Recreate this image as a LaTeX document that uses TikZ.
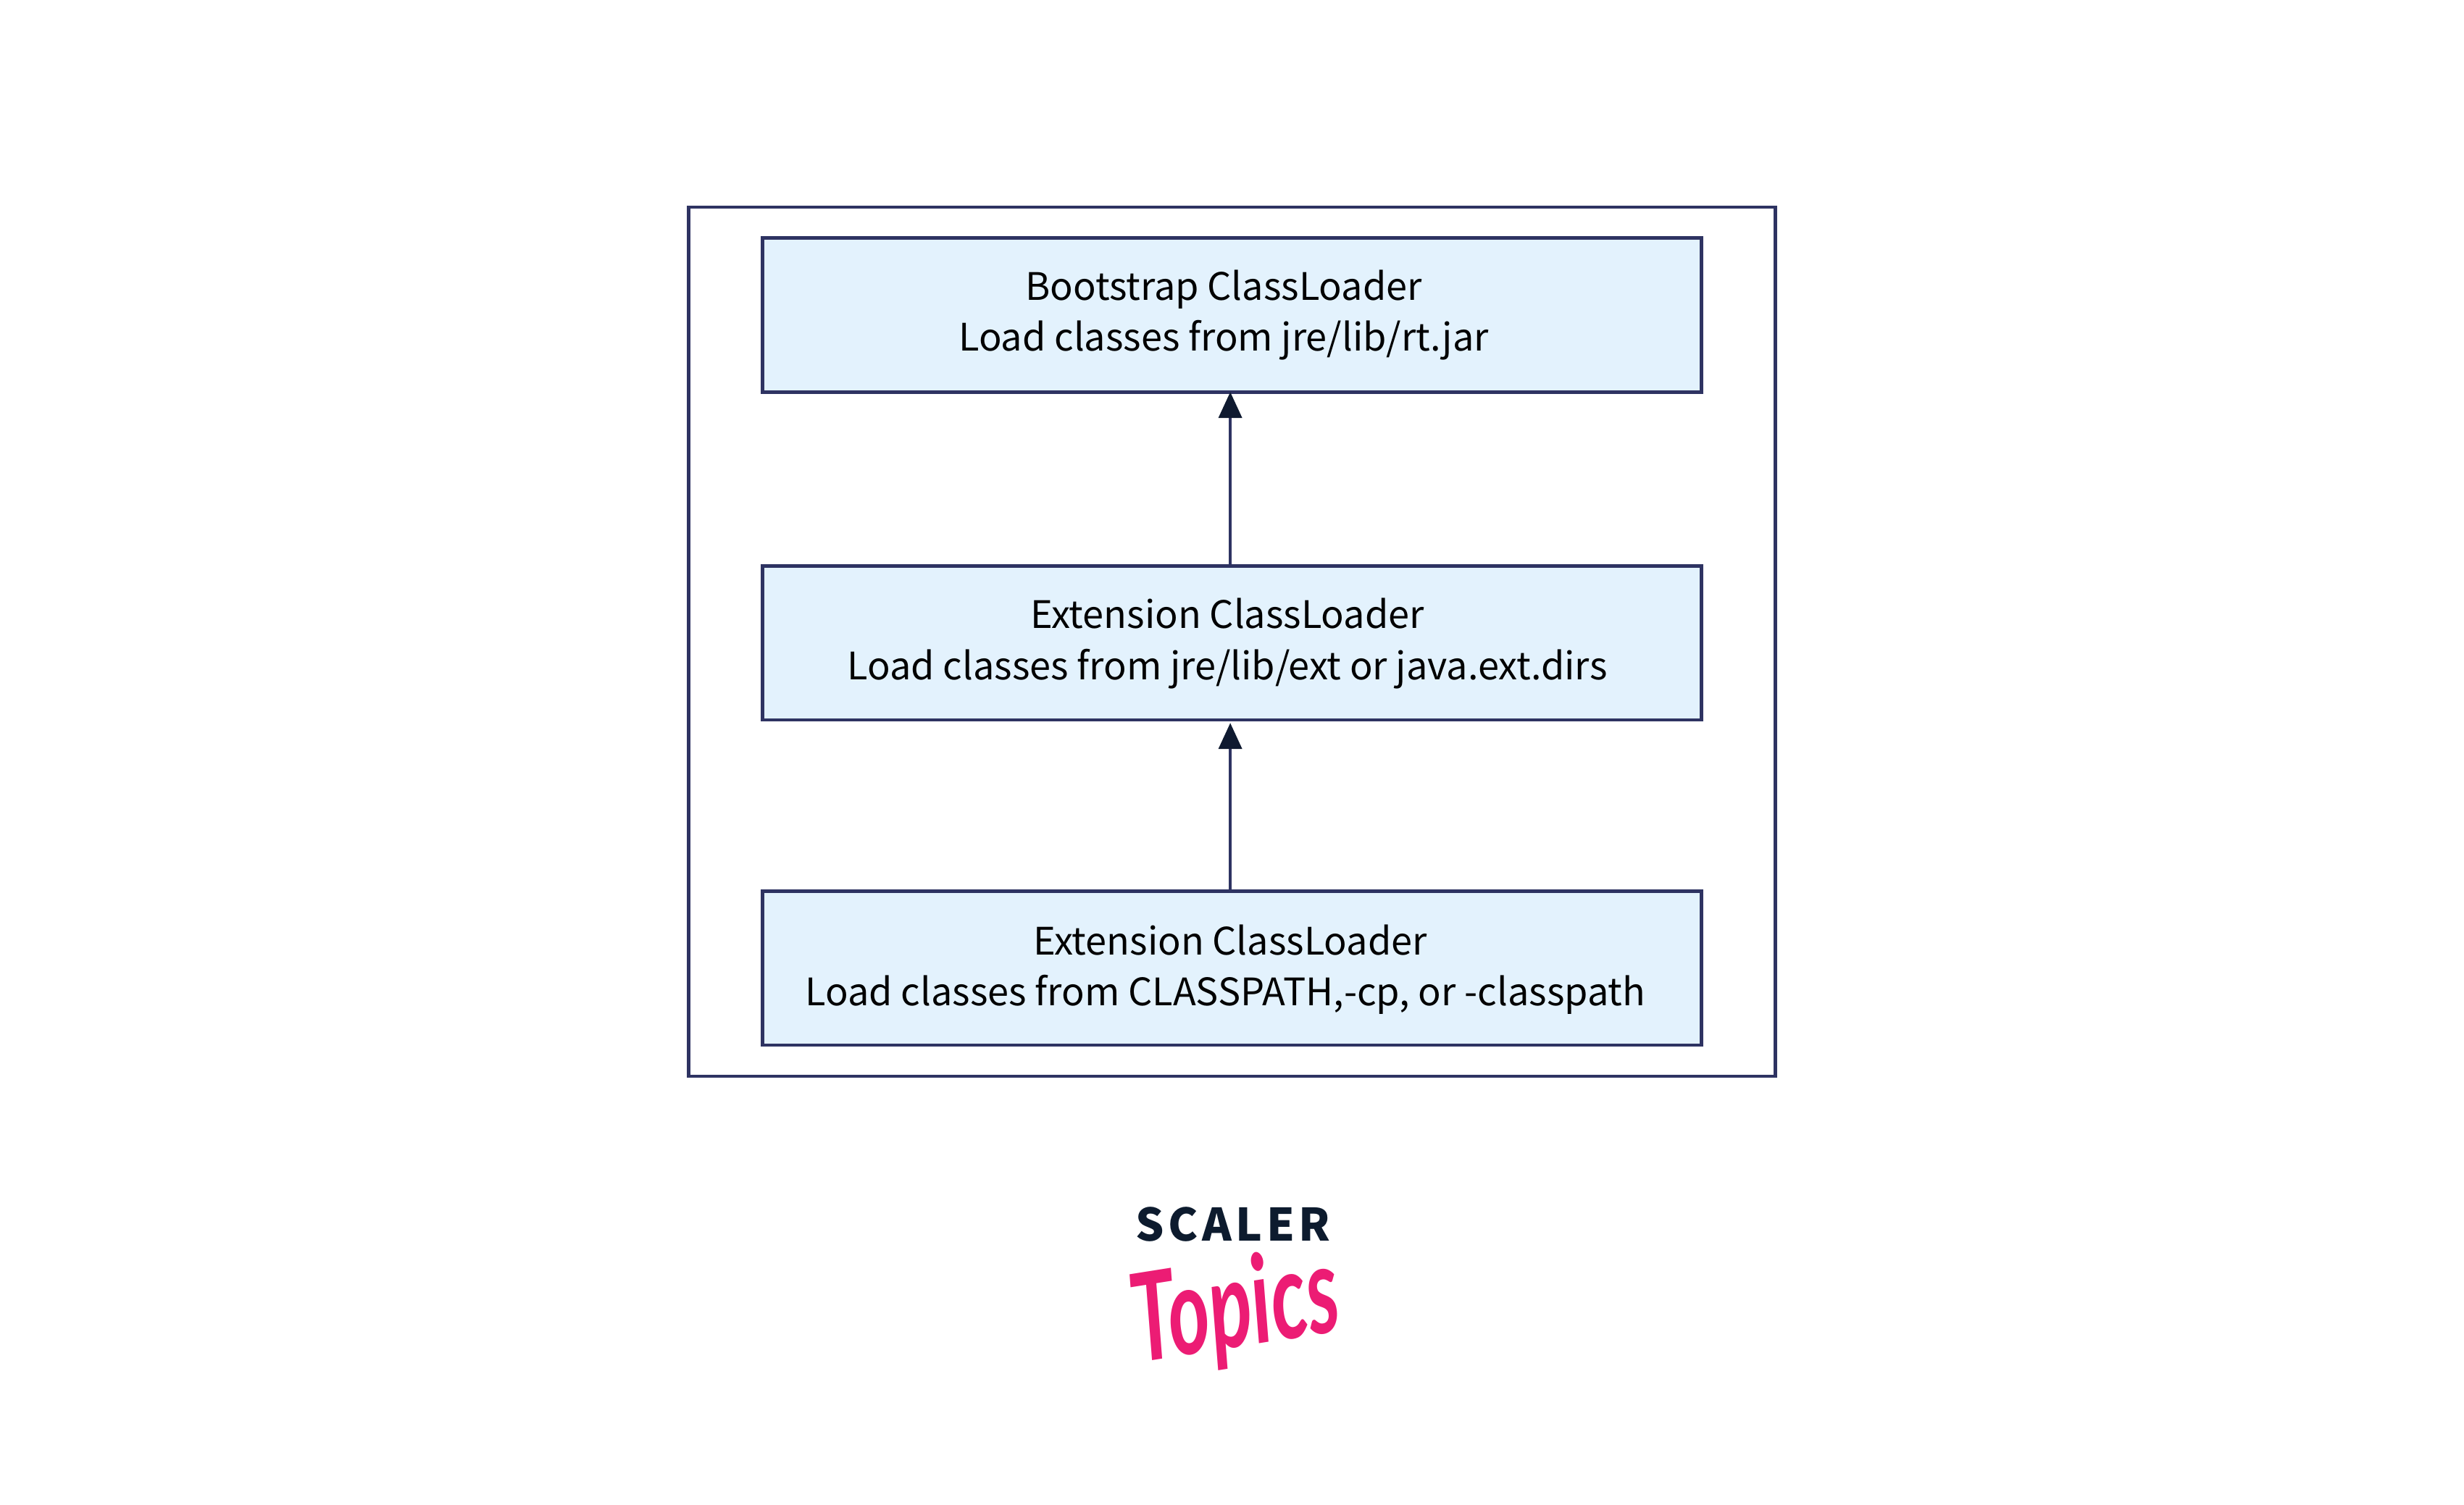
\documentclass[tikz,border=0pt]{standalone}
\usepackage{fontspec}
\setmainfont{Noto Sans CJK SC}
\newfontfamily\logofont[LetterSpace=9]{Noto Sans CJK SC}
\newfontfamily\topicsfont{Lato}
\usepackage{tikz}
\usetikzlibrary{arrows.meta, positioning, calc}
\definecolor{framecolor}{HTML}{2E3362}
\definecolor{boxfill}{HTML}{E3F2FD}
\definecolor{headcolor}{HTML}{0F1A30}
\definecolor{logodark}{HTML}{0D1B2E}
\definecolor{logopink}{HTML}{EC1C74}

\begin{document}
\begin{tikzpicture}[>={Triangle[length=0.36cm,width=0.32cm,color=headcolor]}]
        \useasboundingbox (0,0) rectangle (34.01,20.77);
        % styles
        \tikzset{loaderbox/.style={rectangle,draw=framecolor,fill=boxfill,line width=1.4pt,
                minimum width=12.96cm,minimum height=2.124cm,outer sep=0pt}}
        \tikzset{loadertext/.style={align=center,inner sep=0pt,font=\fontsize{14.87}{20}\selectfont}}
        % outer frame and the three boxes
        \node[draw=framecolor,line width=1.4pt,minimum width=15cm,minimum height=12cm,outer sep=0pt] (frame) at (17.005,11.91) {};
        \node[loaderbox] (boot) at (17.005,16.42) {};
        \node[loaderbox] (ext)  at (17.005,11.892) {};
        \node[loaderbox] (app)  at (17.005,7.402) {};
        % box texts
        \node[loadertext] (boottext) at (16.89,16.42) {Bootstrap ClassLoader\\Load classes from jre/lib/rt.jar};
        \node[loadertext] (exttext)  at (16.94,11.885) {Extension ClassLoader\\Load classes from jre/lib/ext or java.ext.dirs};
        \node[loadertext] (apptext)  at (16.915,7.38) {\hspace*{0.13cm}Extension ClassLoader\\Load classes from CLASSPATH,-cp, or -classpath};
        % arrows
        \draw[->,framecolor,line width=1.2pt] ([xshift=-0.024cm]ext.north) -- ([xshift=-0.024cm]boot.south);
        \draw[->,framecolor,line width=1.2pt,shorten >=1.2pt] ([xshift=-0.024cm]app.north) -- ([xshift=-0.024cm]ext.south);
        % logo
        \node[inner sep=0pt,text=logodark,font=\logofont\bfseries\fontsize{17.6}{18}\selectfont] (scaler) at (17.02,3.87) {SCALER};
        \node[inner sep=0pt,text=logopink,rotate=9,xscale=0.65,font=\topicsfont\bfseries\itshape\fontsize{48}{48}\selectfont] (topics) at (17.06,2.66) {Topics};
    \end{tikzpicture}
\end{document}
